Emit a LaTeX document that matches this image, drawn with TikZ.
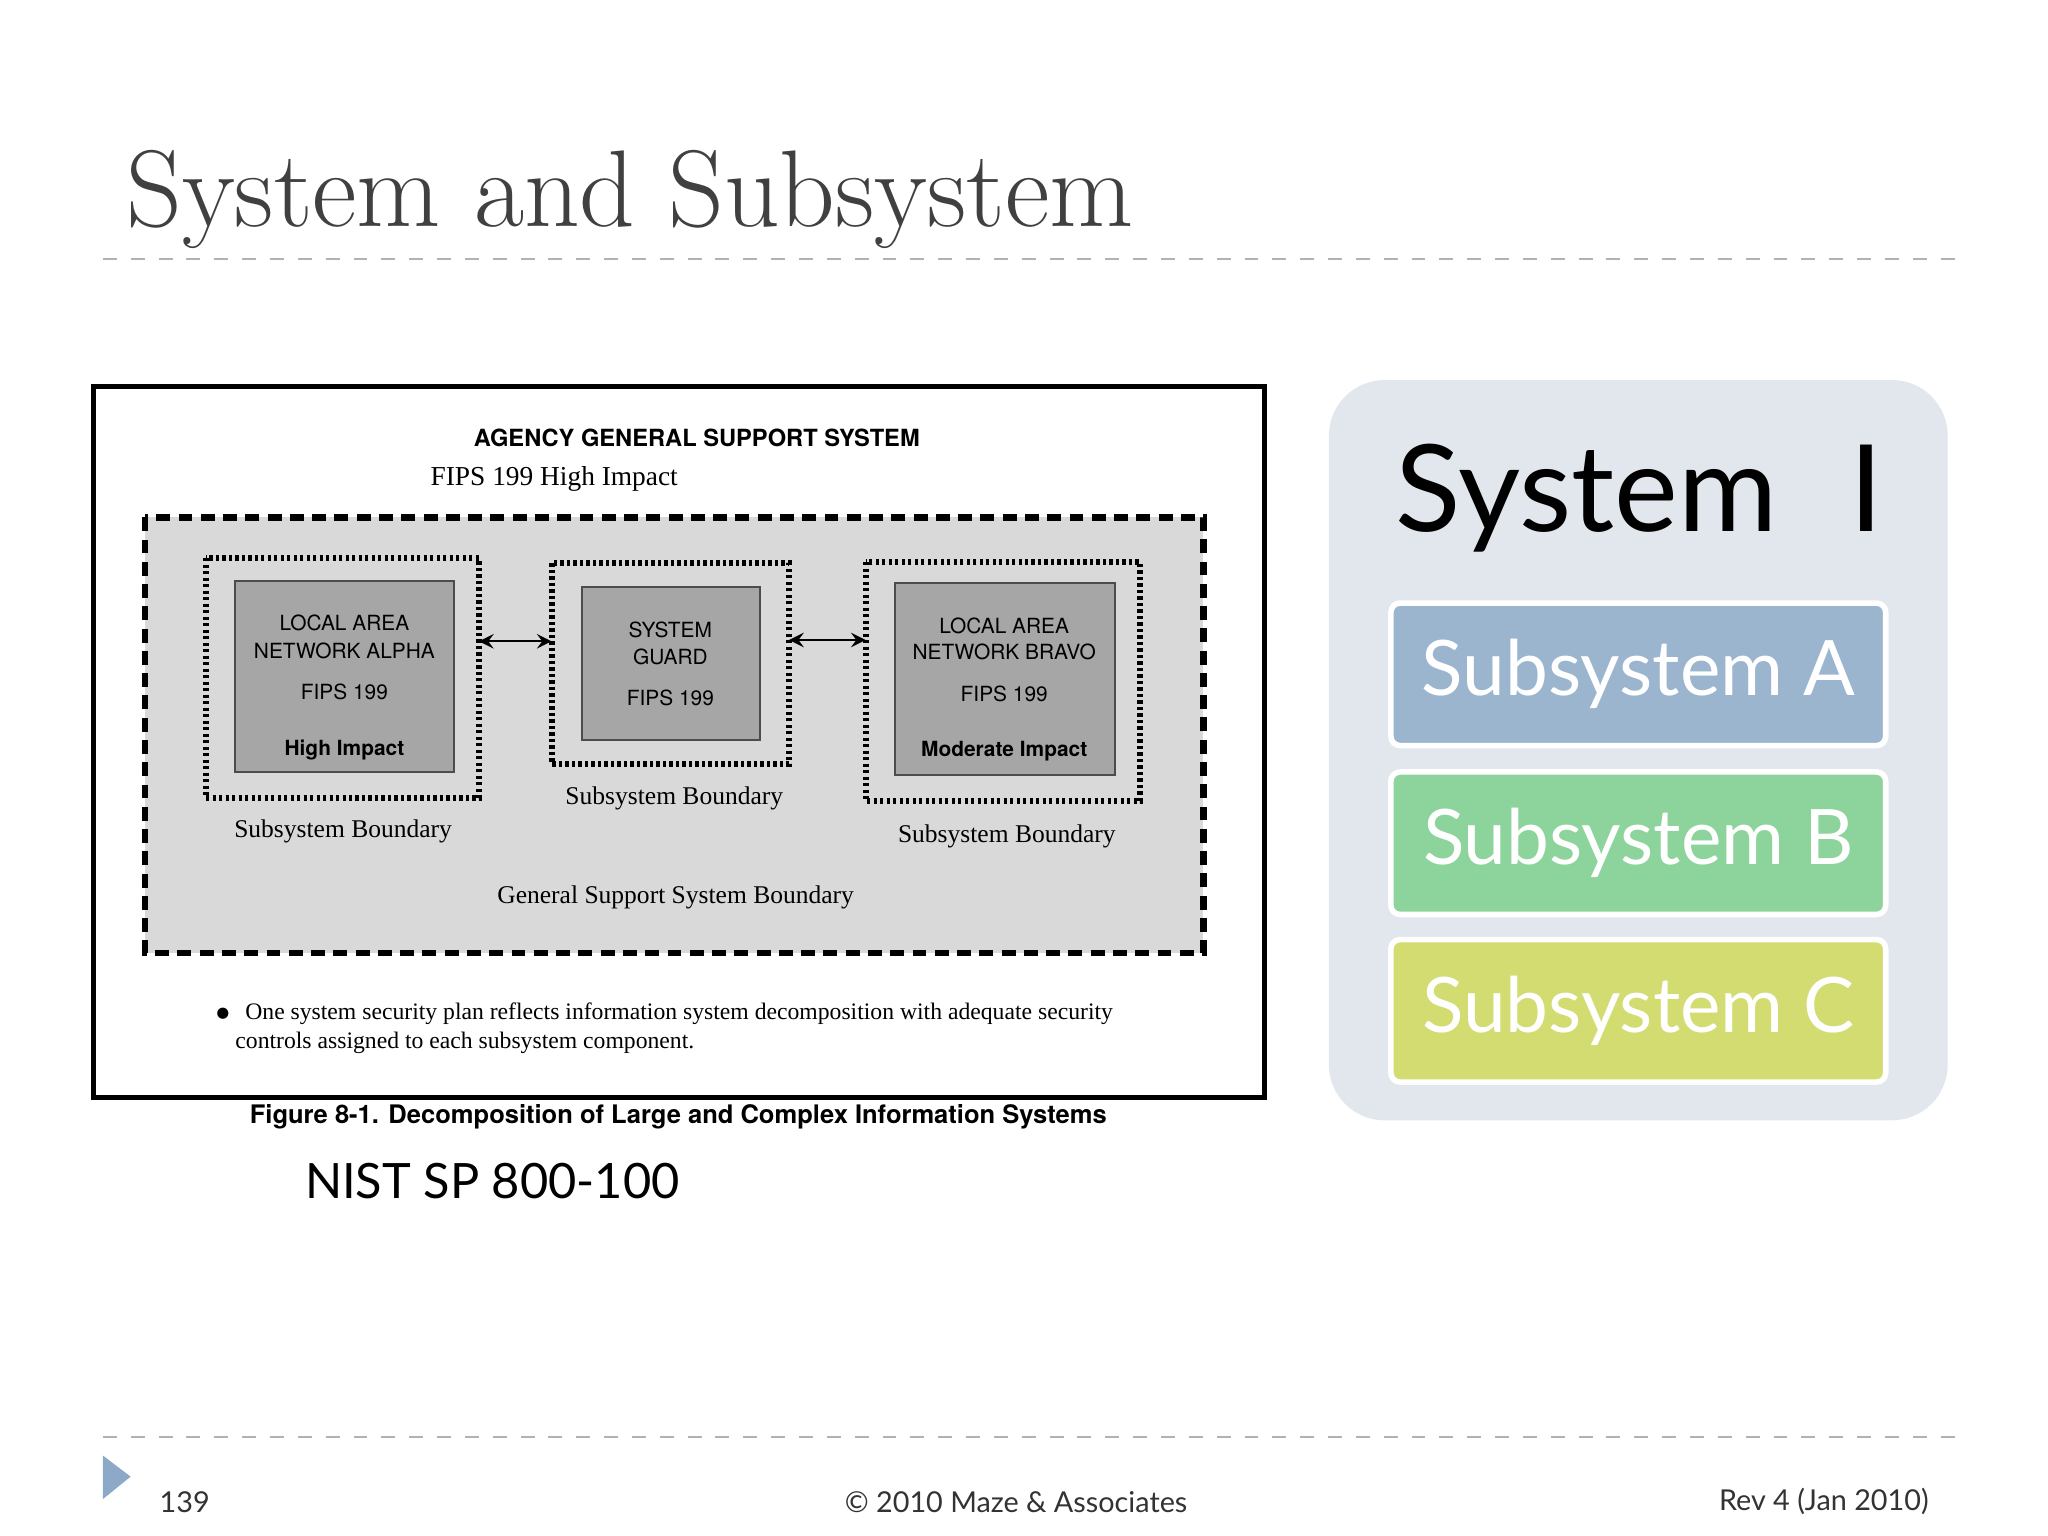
\documentclass[tikz,border=0pt]{standalone}
\usepackage{fontspec}
\setmainfont{TeX Gyre Heros}
\newfontfamily\gsans{Lato}
\newfontfamily\tserif{Liberation Serif}
\newfontfamily\lmser{Latin Modern Roman}
\definecolor{panel}{RGB}{226,231,238}
\definecolor{sa}{RGB}{155,181,207}
\definecolor{sb}{RGB}{140,212,156}
\definecolor{sc}{RGB}{210,220,112}
\definecolor{tri}{RGB}{140,170,200}
\begin{document}
\begin{tikzpicture}[x=0.01cm,y=-0.01cm,
  innerbox/.style={draw=black!70,fill=black!35},
  bnd/.style={draw,line width=1.3pt,dash pattern=on 0.7pt off 0.7pt},
  lbl/.style={font=\tserif\fontsize{5.5}{7}\selectfont},
  subbox/.style={draw=white,line width=1.2pt,rounded corners=2pt},
  subtxt/.style={text=white,font=\gsans\fontsize{16.5}{18}\selectfont}]
\useasboundingbox (0,0) rectangle (1552,1164);
\node[anchor=base west,font=\lmser\fontsize{23.5}{26}\selectfont,text=black!75,inner sep=0] (title) at (95,172) {System and Subsystem};
\draw[gray!60,dashed] (78,196) coordinate(l1) -- (1490,196) coordinate(l2);
\draw[line width=1.1pt] (71,293) rectangle (958,832);
\node[font=\bfseries\fontsize{5.1}{6}\selectfont] (ag) at (528,332) {AGENCY GENERAL SUPPORT SYSTEM};
\node[lbl,font=\tserif\fontsize{5.9}{7}\selectfont] (fh) at (420,363) {FIPS 199 High Impact};
\draw[fill=black!15,line width=1.4pt,dash pattern=on 3pt off 1.8pt] (110,392) rectangle (912,722);
\draw[bnd] (156,423) rectangle (363,605);
\draw[bnd] (418,427) rectangle (598,579);
\draw[bnd] (656,426) rectangle (864,607);
\draw[innerbox] (178,440) rectangle (344,585);
\draw[innerbox] (441,445) rectangle (576,561);
\draw[innerbox] (678,442) rectangle (845,587);
\begin{scope}[every node/.style={font=\fontsize{4.5}{7}\selectfont}]
\node at (261,472) {LOCAL AREA};\node at (261,493) {NETWORK ALPHA};
\node at (261,524) {FIPS 199};\node at (261,568) {\bfseries High Impact};
\node at (508,477) {SYSTEM};\node at (508,498) {GUARD};\node at (508,529) {FIPS 199};
\node at (761,474) {LOCAL AREA};\node at (761,494) {NETWORK BRAVO};
\node at (761,526) {FIPS 199};\node at (761,569) {\bfseries Moderate Impact};
\end{scope}
\coordinate (a1) at (363,486);\coordinate (a2) at (418,486);
\coordinate (b1) at (598,485);\coordinate (b2) at (656,485);
\draw[<->,>=stealth] (a1) -- (a2);
\draw[<->,>=stealth] (b1) -- (b2);
\node[lbl] at (260,630) {Subsystem Boundary};
\node[lbl] at (511,605) {Subsystem Boundary};
\node[lbl] at (763,634) {Subsystem Boundary};
\node[lbl] at (512,680) {General Support System Boundary};
\node[lbl,font=\tserif\fontsize{5.1}{6}\selectfont,anchor=west] at (150,768) {$\bullet$\hspace{3pt}One system security plan reflects information system decomposition with adequate security};
\node[lbl,font=\tserif\fontsize{5.1}{6}\selectfont,anchor=west] at (166,790) {controls assigned to each subsystem component.};
\node[font=\bfseries\fontsize{5.5}{7}\selectfont] at (514,846) {Figure 8-1. Decomposition of Large and Complex Information Systems};
\node[font=\gsans\fontsize{10.5}{13}\selectfont] at (373,895) {NIST SP 800-100};
\fill[rounded corners=12pt,fill=panel] (1007,288) rectangle (1476,849);
\node[anchor=base west,font=\gsans\fontsize{26}{30}\selectfont,inner sep=0] at (1057,403) {System\hspace{0.6em}I};
\draw[subbox,fill=sa] (1054,457) rectangle (1429,565);
\draw[subbox,fill=sb] (1054,585) rectangle (1429,693);
\draw[subbox,fill=sc] (1054,712) rectangle (1429,820);
\node[subtxt] (A) at (1241.5,511) {Subsystem A};
\node[subtxt] (B) at (1241.5,639) {Subsystem B};
\node[subtxt] (C) at (1241.5,766) {Subsystem C};
\draw[gray!60,dashed] (78,1089) -- (1490,1089);
\fill[tri] (78,1103) -- (99,1119) -- (78,1136) -- cycle;
\node[font=\gsans\fontsize{6.2}{8}\selectfont,text=black!80] at (140,1138) {139};
\node[font=\gsans\fontsize{6.2}{8}\selectfont,text=black!80] at (770,1138) {\textcopyright{} 2010 Maze \& Associates};
\node[font=\gsans\fontsize{6.2}{8}\selectfont,text=black!80,anchor=east] at (1474,1138) {Rev 4 (Jan 2010)};
\end{tikzpicture}
\end{document}
